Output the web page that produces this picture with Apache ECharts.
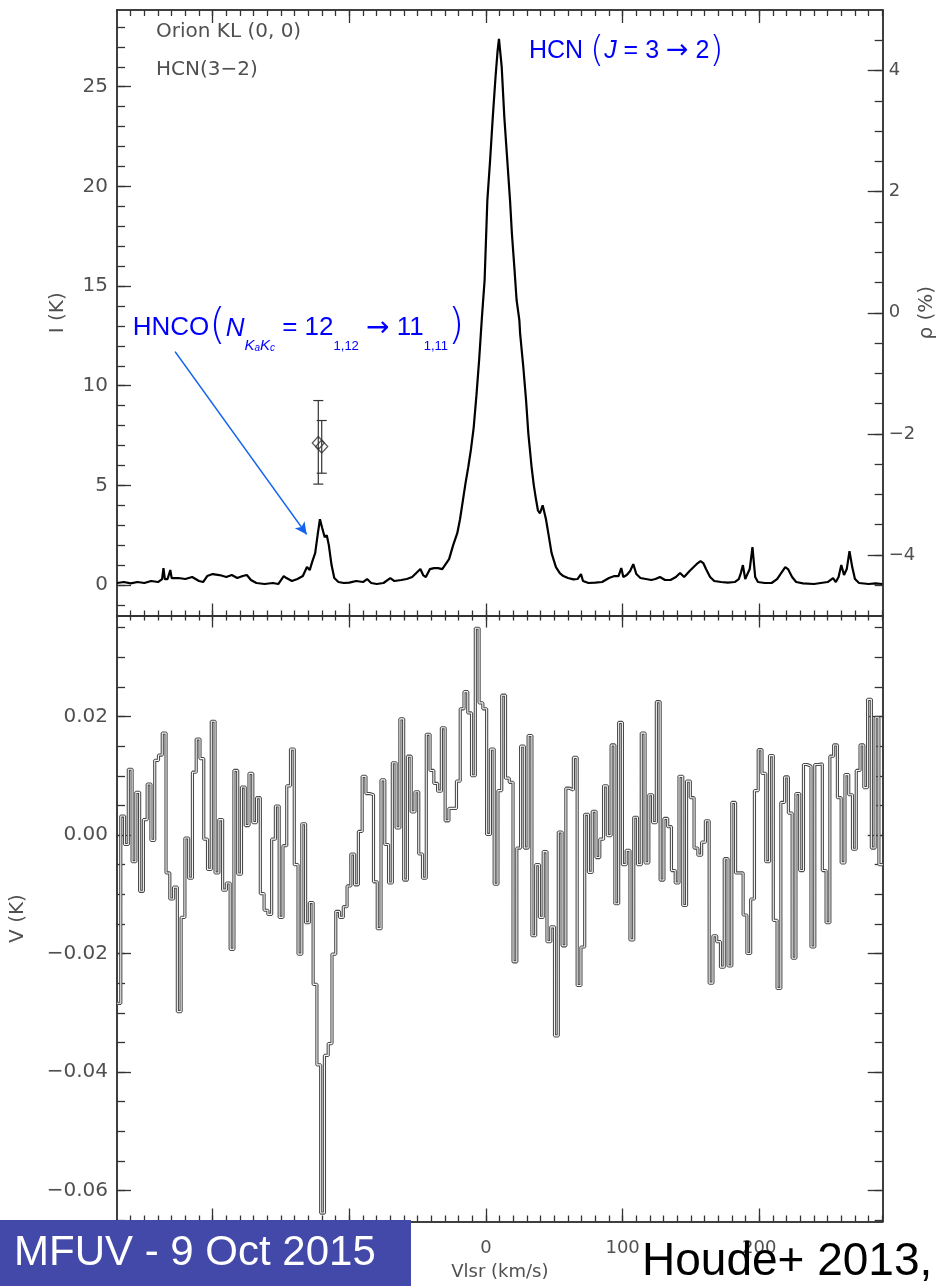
<!DOCTYPE html>
<html><head><meta charset="utf-8">
<script src="https://cdn.jsdelivr.net/npm/echarts@6.0.0/dist/echarts.min.js"></script>
<style>html,body{margin:0;padding:0;background:#fff}#c{width:939px;height:1286px}</style>
</head><body><div id="c"></div>
<script>
// ---------------- DATA ----------------
// Upper panel: Stokes I spectrum (velocity km/s, intensity K)
const iVel = [-270,-265,-260,-255,-250,-245,-240,-237,-236,-235,-233,-231,-230,-225,-220,-215,-210,-207,-204,-200,-195,-190,-186,-182,-178,-175,-172,-168,-162,-156,-152,-148,-146,-142,-138,-134,-131,-129,-127,-125,-123,-121.5,-120,-118,-116.5,-115,-113,-111,-108,-104,-100,-95,-90,-87,-84,-80,-75,-70,-67,-62,-58,-54,-51,-48,-46,-44,-41,-38,-35,-32,-30,-27,-24,-21,-19,-17,-15,-13,-11,-9,-7,-5,-3,-1,1,3,5,7,8.5,9.5,10.5,11.5,13.4,15.5,17.6,19,20.7,22.4,24.4,25,27.3,29.3,31,33.4,35,36.6,38,39.5,41.5,43.9,45.6,48,51.2,54,56.6,60,64,67,69.5,71,75,80,85,90,94,97,99,100.5,103,105.5,107.8,110,113,117,121,124,127.3,131,135,139,142,145,149,152,155,157,159,161,164,167,172,177,182,185,186.5,188,189.7,191,193,195,197,199,204,209,213,216,219,221,224,227,232,240,245,250,254,256,258,260,262,264,266,268,270,273,280,285,290];
const iK = [0.1,0.15,0.08,0.15,0.1,0.2,0.15,0.3,0.85,0.3,0.3,0.75,0.35,0.35,0.3,0.4,0.2,0.15,0.45,0.55,0.5,0.4,0.5,0.35,0.45,0.5,0.25,0.1,0.05,0.1,0.05,0.45,0.35,0.2,0.3,0.45,0.9,0.75,1.2,1.6,2.6,3.3,2.9,2.4,2.5,2.0,1.0,0.35,0.15,0.1,0.12,0.2,0.15,0.3,0.1,0.05,0.1,0.35,0.2,0.25,0.3,0.4,0.6,0.8,0.5,0.4,0.8,0.85,0.85,0.8,1.0,1.3,2.0,2.6,3.3,4.2,5.1,5.9,6.8,7.9,9.5,11.3,13.4,15.3,19.3,21.3,23.5,25.5,26.8,27.4,27.3,26.0,23.5,21.4,19.3,17.6,16.0,14.3,13.3,12.6,10.95,9.3,7.6,5.9,5.0,4.3,3.75,3.6,4.0,3.3,2.6,1.6,0.9,0.6,0.45,0.35,0.28,0.3,0.55,0.2,0.1,0.12,0.15,0.35,0.45,0.45,0.85,0.4,0.5,0.7,1.05,0.55,0.35,0.3,0.25,0.3,0.4,0.25,0.25,0.4,0.6,0.4,0.7,0.9,1.1,1.2,1.1,0.8,0.4,0.2,0.15,0.12,0.15,0.3,0.6,1.0,0.3,0.3,0.8,1.9,0.4,0.15,0.1,0.1,0.3,0.6,0.9,0.8,0.4,0.15,0.08,0.05,0.1,0.15,0.35,0.15,0.4,1.0,0.5,0.8,1.7,0.9,0.3,0.1,0.05,0.08,0.05];

// Polarization fraction points (right axis, %)
const pVel = [-122.7, -120.2];
const pVal = [-2.15, -2.21];
const pLo  = [-2.83, -2.65];
const pHi  = [-1.45, -1.78];

// Lower panel: Stokes V spectrum, channels of constant width
const vChanStart = -270;
const vChanWidth = 2.76;
const vK = [-0.0284,0.0032,-0.0016,0.0111,-0.0045,0.0072,-0.0095,0.0026,0.0086,-0.0009,
0.0126,0.0135,0.0172,-0.0064,-0.0108,-0.0088,-0.0298,-0.0139,-0.0005,-0.0073,
0.0106,0.0162,0.0129,-0.0007,-0.0058,0.0192,-0.0064,0.0026,-0.0093,-0.0081,
-0.0193,0.0109,-0.0066,0.0081,0.0016,0.0104,0.0021,0.0063,-0.0099,-0.0127,
-0.0134,-0.0007,0.0049,-0.0139,-0.0018,0.0083,0.0145,-0.0050,-0.0201,0.0019,
-0.0148,-0.0114,-0.0252,-0.0388,-0.0638,-0.0372,-0.0352,-0.0201,-0.0129,-0.0139,
-0.0121,-0.0086,-0.0032,-0.0084,0.0006,0.0099,0.0070,0.0068,-0.0079,-0.0158,
0.0093,-0.0016,-0.0081,0.0122,0.0012,0.0196,-0.0076,0.0133,0.0039,0.0073,
-0.0032,-0.0073,0.0170,0.0109,0.0087,0.0074,0.0181,0.0024,0.0045,0.0045,
0.0091,0.0213,0.0242,0.0206,0.0100,0.0349,0.0223,0.0213,0.0001,0.0145,
-0.0083,0.0075,0.0236,0.0096,0.0089,-0.0214,-0.0022,0.0150,-0.0022,0.0168,
-0.0170,-0.0050,-0.0139,-0.0028,-0.0180,-0.0155,-0.0339,0.0005,-0.0187,0.0079,
0.0076,0.0131,-0.0254,-0.0189,0.0035,-0.0063,0.0040,-0.0038,-0.0007,0.0083,
-0.0001,0.0152,-0.0116,0.0190,-0.0050,-0.0026,-0.0177,0.0030,-0.0050,0.0172,
-0.0047,0.0068,0.0021,0.0225,-0.0076,0.0028,0.0014,-0.0060,-0.0081,0.0099,
-0.0119,0.0091,0.0063,-0.0022,-0.0034,-0.0012,0.0024,-0.0250,-0.0170,-0.0180,
-0.0223,-0.0040,-0.0221,0.0055,-0.0064,-0.0064,-0.0135,-0.0200,-0.0108,0.0075,
0.0144,0.0104,-0.0045,0.0134,-0.0144,-0.0259,0.0055,0.0098,0.0037,-0.0208,
0.0070,-0.0060,0.0119,0.0116,-0.0189,0.0119,0.0120,-0.0060,-0.0148,0.0133,
0.0152,0.0063,-0.0047,0.0102,0.0068,-0.0024,0.0109,0.0152,0.0080,0.0229,
-0.0022,0.0198,-0.0050];

// Tick labels / axis ranges
const xRange = [-270, 290.3];
const xMajorTicks = [-200, -100, 0, 100, 200];
const iRange = [-1.53, 28.85];
const iMajorTicks = [0, 5, 10, 15, 20, 25];
const pRange = [-5, 5];
const pMajorTicks = [-4, -2, 0, 2, 4];
const vRange = [-0.06523, 0.03705];
const vMajorTicks = [-0.06, -0.04, -0.02, 0.00, 0.02];

// ---------------- helpers ----------------
function ticksBetween(a, b, step) { const r = []; const n = Math.round((b - a) / step); for (let k = 0; k <= n; k++) r.push(+(a + k * step).toFixed(6)); return r; }
const xMinorTicks = ticksBetween(-260, 290, 10);
const iMinorTicks = ticksBetween(-1, 28, 1);
const pMinorTicks = ticksBetween(-4.5, 4.5, 0.5);
const vMinorTicks = ticksBetween(-0.065, 0.035, 0.005);
const minus = s => String(s).replace('-', '\u2212');

const AX = '#333';
const LBL = '#505050';
const FF = 'DejaVu Sans';
const BLUE = '#0000ff';

function xAx(grid, pos, ticks, len, withLabels, extra) {
  return Object.assign({
    type: 'value', gridIndex: grid, position: pos, min: xRange[0], max: xRange[1],
    axisLine: { show: true, onZero: false, lineStyle: { color: AX, width: 1.5 } },
    axisTick: { show: true, inside: true, length: len, customValues: ticks, lineStyle: { color: AX, width: 1.3 } },
    axisLabel: withLabels ? { show: true, customValues: ticks, margin: 18, fontSize: 18, fontFamily: FF, color: LBL, formatter: v => minus(v) } : { show: false },
    splitLine: { show: false }
  }, extra || {});
}
function yAx(grid, pos, range, ticks, len, labelFmt, extra) {
  return Object.assign({
    type: 'value', gridIndex: grid, position: pos, min: range[0], max: range[1],
    axisLine: { show: true, onZero: false, lineStyle: { color: AX, width: 1.5 } },
    axisTick: { show: true, inside: true, length: len, customValues: ticks, lineStyle: { color: AX, width: 1.3 } },
    axisLabel: labelFmt ? { show: true, customValues: ticks, margin: pos === 'left' ? 9 : 6, fontSize: pos === 'left' ? 20 : 18, fontFamily: FF, color: LBL, formatter: labelFmt } : { show: false },
    splitLine: { show: false }
  }, extra || {});
}
const nameStyle = { fontSize: 20, fontFamily: FF, color: LBL };

const option = {
  animation: false,
  backgroundColor: '#fff',
  grid: [
    { left: 117, top: 10, width: 765.7, height: 605.5, outerBoundsMode: 'none', containLabel: false },
    { left: 117, top: 615.5, width: 765.7, height: 606, outerBoundsMode: 'none', containLabel: false }
  ],
  xAxis: [
    xAx(0, 'bottom', xMinorTicks, 5, false),
    xAx(0, 'bottom', xMajorTicks, 12, false),
    xAx(0, 'top', xMinorTicks, 6, false),
    xAx(0, 'top', xMajorTicks, 13, false),
    xAx(1, 'top', xMinorTicks, 5, false),
    xAx(1, 'top', xMajorTicks, 12, false),
    xAx(1, 'bottom', xMinorTicks, 6, false),
    xAx(1, 'bottom', xMajorTicks, 13, true, {
      name: 'Vlsr (km/s)', nameLocation: 'middle', nameGap: 42, nameMoveOverlap: false, nameTextStyle: { fontSize: 18, fontFamily: FF, color: LBL } })
  ],
  yAxis: [
    yAx(0, 'left', iRange, iMinorTicks, 8, null),
    yAx(0, 'left', iRange, iMajorTicks, 14, v => String(v), {
      name: 'I (K)', nameLocation: 'middle', nameGap: 49, nameMoveOverlap: false, nameTextStyle: nameStyle }),
    yAx(0, 'right', pRange, pMinorTicks, 8, null),
    yAx(0, 'right', pRange, pMajorTicks, 15, v => minus(v), {
      name: '\u03c1 (%)', nameLocation: 'middle', nameGap: 34, nameMoveOverlap: false, nameTextStyle: nameStyle }),
    yAx(1, 'left', vRange, vMinorTicks, 8, null),
    yAx(1, 'left', vRange, vMajorTicks, 14, v => minus((+v).toFixed(2)), {
      name: 'V (K)', nameLocation: 'middle', nameGap: 89, nameMoveOverlap: false, nameTextStyle: nameStyle }),
    yAx(1, 'right', vRange, vMinorTicks, 8, null),
    yAx(1, 'right', vRange, vMajorTicks, 15, null)
  ],
  series: [
    {
      type: 'line', xAxisIndex: 0, yAxisIndex: 0, showSymbol: false, symbol: 'none',
      data: iVel.map((v, k) => [v, iK[k]]),
      lineStyle: { color: '#000', width: 2.2 },
      markLine: {
        silent: true, symbol: ['none', 'arrow'], symbolSize: [9, 12],
        label: { show: false },
        lineStyle: { color: '#1463f0', width: 1.6, type: 'solid' },
        data: [[{ coord: [-227.5, 11.71] }, { coord: [-131.2, 2.54] }]]
      },
      z: 3
    },
    {
      type: 'custom', xAxisIndex: 0, yAxisIndex: 3,
      data: pVel.map((v, k) => [v, pVal[k], pLo[k], pHi[k]]),
      renderItem: function (params, api) {
        const hi = api.coord([api.value(0), api.value(3)]);
        const lo = api.coord([api.value(0), api.value(2)]);
        const hw = 5;
        const st = { stroke: '#333', lineWidth: 1.2 };
        return { type: 'group', children: [
          { type: 'line', shape: { x1: hi[0], y1: hi[1], x2: lo[0], y2: lo[1] }, style: st },
          { type: 'line', shape: { x1: hi[0] - hw, y1: hi[1], x2: hi[0] + hw, y2: hi[1] }, style: st },
          { type: 'line', shape: { x1: lo[0] - hw, y1: lo[1], x2: lo[0] + hw, y2: lo[1] }, style: st }
        ] };
      },
      z: 4
    },
    {
      type: 'scatter', xAxisIndex: 0, yAxisIndex: 3,
      data: pVel.map((v, k) => [v, pVal[k]]),
      symbol: 'diamond', symbolSize: [12, 13],
      itemStyle: { color: 'rgba(0,0,0,0)', borderColor: '#333', borderWidth: 1.3 },
      z: 5
    },
    {
      type: 'line', xAxisIndex: 4, yAxisIndex: 4, step: 'end', showSymbol: false, symbol: 'none',
      data: vK.map((v, k) => [vChanStart + k * vChanWidth, v]).concat([[vChanStart + vK.length * vChanWidth, vK[vK.length - 1]]]),
      lineStyle: { color: '#4a4a4a', width: 3.2 }, z: 3
    },
    {
      type: 'line', xAxisIndex: 4, yAxisIndex: 4, step: 'end', showSymbol: false, symbol: 'none',
      data: vK.map((v, k) => [vChanStart + k * vChanWidth, v]).concat([[vChanStart + vK.length * vChanWidth, vK[vK.length - 1]]]),
      lineStyle: { color: '#f4f4f4', width: 1.1 }, z: 4
    }
  ],
  graphic: [
    { type: 'text', z: 50, style: { text: 'Orion KL (0, 0)', x: 156, y: 31.7, verticalAlign: 'middle', fontSize: 20, fontFamily: FF, fill: LBL } },
    { type: 'text', z: 50, style: { text: 'HCN(3\u22122)', x: 156, y: 70.1, verticalAlign: 'middle', fontSize: 20, fontFamily: FF, fill: LBL } },
    { type: 'text', z: 50, style: {
        x: 529, y: 29.3, verticalAlign: 'top',
        text: '{b|HCN }{p|(}{i|J}{b| = 3 }{a|\u2192}{b| 2}{p|)}',
        rich: {
          b: { fontSize: 25, fontFamily: 'Liberation Sans', fill: BLUE, lineHeight: 44 },
          a: { fontSize: 27, fontFamily: 'DejaVu Sans', fill: BLUE, lineHeight: 44 },
          i: { fontSize: 25, fontFamily: 'Liberation Sans', fontStyle: 'italic', fill: BLUE, lineHeight: 44 },
          p: { fontSize: 36, fontFamily: 'DejaVu Sans', fontWeight: 200, fill: BLUE, lineHeight: 44 }
        } } },
    { type: 'text', z: 50, style: {
        x: 132.7, y: 303.3, verticalAlign: 'top',
        text: '{b|HNCO}{p|(}{i|N}{s|K}{ss|a}{s|K}{ss|c}{b| = 12}{n|1,12}{b| }{a|\u2192}{b| 11}{n|1,11}{p|)}',
        rich: {
          b: { fontSize: 26, fontFamily: 'Liberation Sans', fill: BLUE, lineHeight: 50 },
          a: { fontSize: 28, fontFamily: 'DejaVu Sans', fill: BLUE, lineHeight: 50 },
          i: { fontSize: 26, fontFamily: 'Liberation Sans', fontStyle: 'italic', fill: BLUE, lineHeight: 50 },
          p: { fontSize: 42, fontFamily: 'DejaVu Sans', fontWeight: 200, fill: BLUE, lineHeight: 50 },
          s: { fontSize: 15, fontFamily: 'Liberation Sans', fontStyle: 'italic', fill: BLUE, lineHeight: 23, verticalAlign: 'bottom' },
          ss: { fontSize: 10, fontFamily: 'Liberation Sans', fontStyle: 'italic', fill: BLUE, lineHeight: 11, verticalAlign: 'bottom' },
          n: { fontSize: 13, fontFamily: 'Liberation Sans', fill: BLUE, lineHeight: 23, verticalAlign: 'bottom' }
        } } },
    { type: 'rect', z: 100, shape: { x: 0, y: 1220, width: 411, height: 66 }, style: { fill: '#4349a8' } },
    { type: 'text', z: 101, style: { text: 'MFUV - 9 Oct 2015', x: 14, y: 1253.4, verticalAlign: 'middle', fontSize: 42, fontFamily: 'Liberation Sans', fill: '#fff' } },
    { type: 'text', z: 101, style: { text: 'Houde+ 2013,', x: 642, y: 1262.4, verticalAlign: 'middle', fontSize: 46, fontFamily: 'Liberation Sans', fill: '#000' } }
  ]
};

const chart = echarts.init(document.getElementById('c'), null, { renderer: 'canvas', width: 939, height: 1286 });
chart.setOption(option);
</script></body></html>
